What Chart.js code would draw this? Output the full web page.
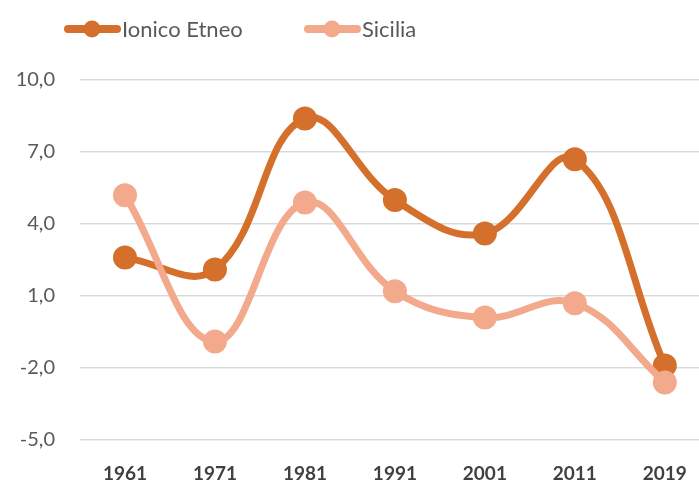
<!DOCTYPE html>
<html>
<head>
<meta charset="utf-8">
<script src="https://cdn.jsdelivr.net/npm/chart.js@4"></script>
<style>
  html, body { margin: 0; padding: 0; background: #fff; overflow: hidden; }
  canvas { display: block; }
</style>
</head>
<body>
<canvas id="chart" width="699" height="487"></canvas>
<script>
const years = ['1961', '1971', '1981', '1991', '2001', '2011', '2019'];
const ionicoEtneo = [2.6, 2.1, 8.4, 5.0, 3.6, 6.7, -1.9];
const sicilia = [5.2, -0.9, 4.9, 1.2, 0.1, 0.7, -2.6];
const yTicks = [-5, -2, 1, 4, 7, 10];

const darkOrange = '#D46F2C';
const lightOrange = '#F2A98C';

// simple legend drawn by hand: line + dot + label
const legendPlugin = {
    id: 'lineLegend',
    afterDraw(chart) {
        const ctx = chart.ctx;
        const spots = [65, 305];
        chart.data.datasets.forEach((ds, i) => {
            const x = spots[i];
            const y = 29;
            ctx.save();
            ctx.strokeStyle = ds.borderColor;
            ctx.lineWidth = 8;
            ctx.lineCap = 'round';
            ctx.beginPath();
            ctx.moveTo(x + 3, y);
            ctx.lineTo(x + 52, y);
            ctx.stroke();
            ctx.fillStyle = ds.borderColor;
            ctx.beginPath();
            ctx.arc(x + 27, y, 8.5, 0, Math.PI * 2);
            ctx.fill();
            ctx.fillStyle = '#595959';
            ctx.font = '22px Lato';
            ctx.textBaseline = 'middle';
            ctx.fillText(ds.label, x + 57, y + 1);
            ctx.restore();
        });
    }
};

const chart = document.getElementById('chart').getContext('2d');
const chartData = {
    datasets: [{
        label: 'Ionico Etneo',
        data: ionicoEtneo.map((v, i) => ({ x: i, y: v })),
        borderColor: darkOrange,
        backgroundColor: darkOrange,
        borderWidth: 7,
        pointRadius: 8.5,
        pointHoverRadius: 8.5,
        tension: 0.4,
        order: 2
    }, {
        label: 'Sicilia',
        data: sicilia.map((v, i) => ({ x: i, y: v })),
        borderColor: lightOrange,
        backgroundColor: lightOrange,
        borderWidth: 7,
        pointRadius: 8.5,
        pointHoverRadius: 8.5,
        tension: 0.4,
        order: 1
    }]
};

const chartConfig = {
    type: 'line',
    data: chartData,
    plugins: [legendPlugin],
    options: {
        responsive: false,
        animation: false,
        layout: { autoPadding: false, padding: { top: 80, left: 0, right: 0, bottom: 0 } },
        plugins: {
            legend: { display: false },
            tooltip: { enabled: false }
        },
        scales: {
            x: {
                type: 'linear',
                bounds: 'data',
                min: -0.5,
                max: 6.38,
                afterBuildTicks: (scale) => { scale.ticks = years.map((_, i) => ({ value: i })); },
                afterFit: (scale) => {
                    scale.height = 47;
                    scale.paddingLeft = 0;
                    scale.paddingRight = 0;
                },
                grid: { display: false },
                border: { display: false },
                ticks: {
                    autoSkip: false,
                    maxRotation: 0,
                    padding: 14,
                    color: '#404040',
                    font: { family: 'Lato', size: 19, weight: 'bold' },
                    callback: (v) => years[v] ?? ''
                }
            },
            y: {
                min: -5,
                max: 10,
                afterBuildTicks: (scale) => { scale.ticks = yTicks.map(v => ({ value: v })); },
                afterFit: (scale) => { scale.width = 80; },
                grid: { color: '#D9D9D9', lineWidth: 1.5, drawTicks: false },
                border: { display: false },
                ticks: {
                    padding: 25,
                    color: '#595959',
                    font: { family: 'Lato', size: 20 },
                    callback: (v) => v.toFixed(1).replace('.', ',')
                }
            }
        }
    }
};

const myChart = new Chart(chart, chartConfig);
</script>
</body>
</html>
